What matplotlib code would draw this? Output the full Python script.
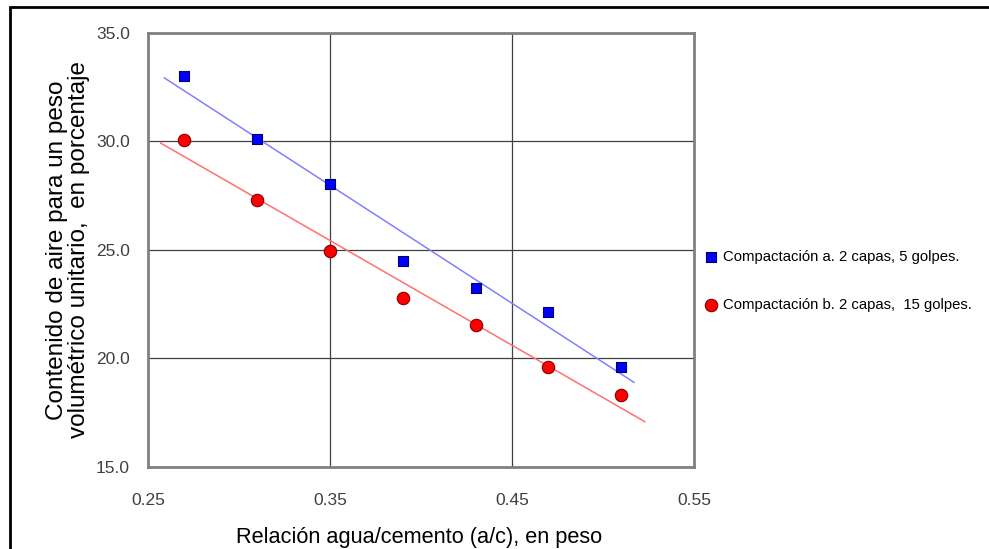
import numpy as np
import matplotlib
matplotlib.use("Agg")
import matplotlib.pyplot as plt
from matplotlib.patches import Rectangle

plt.rcParams['font.family'] = ['Liberation Sans', 'DejaVu Sans']

# Data
ac_ratio = [0.27, 0.31, 0.35, 0.39, 0.43, 0.47, 0.51]
aire_a = [33.0, 30.1, 28.05, 24.5, 23.25, 22.15, 19.6]
aire_b = [30.05, 27.3, 24.95, 22.8, 21.55, 19.6, 18.3]
trend_range_a = [0.259, 0.517]
trend_range_b = [0.257, 0.523]
label_a = "Compactación a. 2 capas, 5 golpes."
label_b = "Compactación b. 2 capas,  15 golpes."
x_ticks = [0.25, 0.35, 0.45, 0.55]
y_ticks = [15.0, 20.0, 25.0, 30.0, 35.0]

W, H = 989, 549
fig = plt.figure(figsize=(W/100, H/100), dpi=100)
ax = fig.add_axes([148/W, 1-467/H, (694-148)/W, (467-33)/H])

# trend lines (least squares fits)
for xs, ys, rng, col in [(ac_ratio, aire_a, trend_range_a, '#8080ff'),
                         (ac_ratio, aire_b, trend_range_b, '#ff7070')]:
    m, b = np.polyfit(xs, ys, 1)
    tx = np.array(rng)
    ax.plot(tx, m*tx + b, color=col, lw=1.1, zorder=3)

ax.scatter(ac_ratio, aire_a, marker='s', s=60, color='#0000ff', edgecolors='#000060',
           linewidths=0.8, zorder=4, label=label_a)
ax.scatter(ac_ratio, aire_b, marker='o', s=80, color='#ff0000', edgecolors='#800000',
           linewidths=0.8, zorder=4, label=label_b)

ax.set_xlim(0.25, 0.55)
ax.set_ylim(15, 35)
ax.set_xticks(x_ticks)
ax.set_yticks(y_ticks)
ax.set_xticklabels([f"{v:.2f}" for v in x_ticks])
ax.set_yticklabels([f"{v:.1f}" for v in y_ticks])
ax.tick_params(length=0, labelsize=12.5, labelcolor='#404040')
ax.tick_params(axis='x', pad=19)
ax.tick_params(axis='y', pad=13)
ax.grid(True, color='#404040', lw=0.9)
ax.set_axisbelow(True)
for s in ax.spines.values():
    s.set_color('#808080')
    s.set_linewidth(2)

fig.text(419/W, 1-537/H, "Relación agua/cemento (a/c), en peso", fontsize=15.7,
         ha='center', va='center')
fig.text(68/W, 1-250/H, "Contenido de aire para un peso\nvolumétrico unitario,  en porcentaje",
         fontsize=17.5, rotation=90, ha='center', va='center', multialignment='center',
         linespacing=0.95)

fig.legend(loc='center left', bbox_to_anchor=(698/W, 1-281/H), frameon=False,
           fontsize=10.7, handletextpad=0.25, labelspacing=2.3, markerscale=1.0,
           borderaxespad=0, handlelength=1.0)

fig.patches.append(Rectangle((10/W, -0.1), 1.2, 1-7/H+0.1, transform=fig.transFigure,
                             fill=False, edgecolor='black', lw=2))

fig.savefig("out.png", dpi=100)
